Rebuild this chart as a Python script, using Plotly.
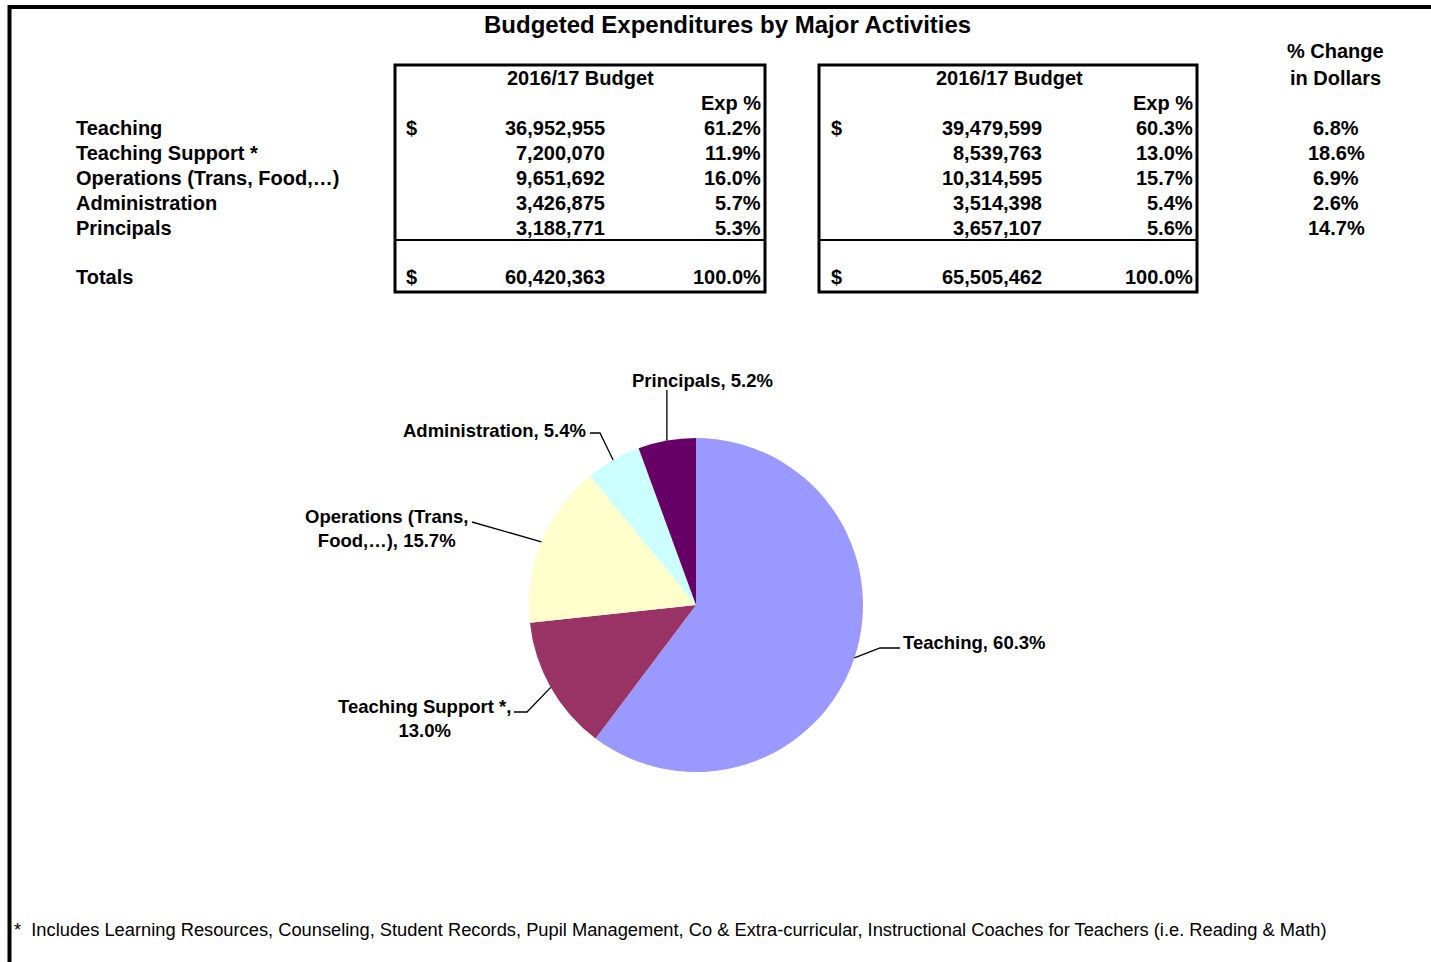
import math
import plotly.graph_objects as go

# ---------------- data ----------------
categories = ["Teaching", "Teaching Support *", "Operations (Trans, Food,\u2026)", "Administration", "Principals"]
budget_prev = [36952955, 7200070, 9651692, 3426875, 3188771]
pct_prev = [61.2, 11.9, 16.0, 5.7, 5.3]
budget_curr = [39479599, 8539763, 10314595, 3514398, 3657107]
pct_curr = [60.3, 13.0, 15.7, 5.4, 5.6]
pct_change = [6.8, 18.6, 6.9, 2.6, 14.7]
total_prev = 60420363
total_curr = 65505462
total_pct = 100.0
pie_label_pct = [60.3, 13.0, 15.7, 5.4, 5.2]
pie_colors = ["#9999FF", "#993366", "#FFFFCC", "#CCFFFF", "#660066"]
title_text = "Budgeted Expenditures by Major Activities"
header_text = "2016/17 Budget"
footnote = ("*&nbsp; Includes Learning Resources, Counseling, Student Records, Pupil Management, "
            "Co & Extra-curricular, Instructional Coaches for Teachers (i.e. Reading & Math)")

# ---------------- layout helpers ----------------
W, H = 1431, 962
FONT = "Liberation Sans, Arial, sans-serif"
TS = 20  # table font size
PAD = {"left": -2, "right": 2.5, "center": 0}  # compensate annotation padding


def X(px):
    return px / W


def Y(py):
    return 1 - py / H


annotations = []
shapes = []


def txt(s, px, py, xanchor="left", size=TS, bold=True, align="left"):
    annotations.append(dict(
        text=s, x=X(px + PAD[xanchor]), y=Y(py), xref="paper", yref="paper",
        xanchor=xanchor, yanchor="middle", showarrow=False, align=align,
        font=dict(family=FONT, size=size, color="black", weight="bold" if bold else "normal"),
    ))


def line(pts, width=2):
    path = "M " + " L ".join(f"{X(a)},{Y(b)}" for a, b in pts)
    shapes.append(dict(type="path", path=path, xref="paper", yref="paper",
                       line=dict(color="black", width=width)))


# outer frame
line([(9.5, 962), (9.5, 7), (1431, 7)], width=4)

# title
txt(title_text, 727, 25, xanchor="center", size=24)

# row labels
row_y = [128, 153, 178, 203, 228]
total_y = 277
for name, y in zip(categories, row_y):
    txt(name, 76, y)
txt("Totals", 76, total_y)

# tables
tables = [
    dict(x0=395, x1=765, hx=580, dollar=406, num=604, pct=760, vals=budget_prev, pcts=pct_prev, tot=total_prev),
    dict(x0=819, x1=1197, hx=1009, dollar=831, num=1041, pct=1192, vals=budget_curr, pcts=pct_curr, tot=total_curr),
]
for t in tables:
    shapes.append(dict(type="rect", xref="paper", yref="paper",
                       x0=X(t["x0"]), x1=X(t["x1"]), y0=Y(292), y1=Y(65),
                       line=dict(color="black", width=3)))
    line([(t["x0"], 240), (t["x1"], 240)], width=2)
    txt(header_text, t["hx"], 78, xanchor="center")
    txt("Exp %", t["pct"], 103, xanchor="right")
    txt("$", t["dollar"], row_y[0], xanchor="left")
    txt("$", t["dollar"], total_y, xanchor="left")
    for v, p, y in zip(t["vals"], t["pcts"], row_y):
        txt(f"{v:,}", t["num"], y, xanchor="right")
        txt(f"{p:.1f}%", t["pct"], y, xanchor="right")
    txt(f"{t['tot']:,}", t["num"], total_y, xanchor="right")
    txt(f"{total_pct:.1f}%", t["pct"], total_y, xanchor="right")

# % change column
txt("% Change", 1335, 51, xanchor="center")
txt("in Dollars", 1335, 78, xanchor="center")
for c, y in zip(pct_change, row_y):
    txt(f"{c:.1f}%", 1336, y, xanchor="center")

# footnote
txt(footnote, 14, 929, size=18.3, bold=False)

# ---------------- pie ----------------
cx, cy, r = 696, 605, 167
fig = go.Figure(go.Pie(
    labels=categories, values=budget_curr, sort=False, direction="clockwise", rotation=0,
    marker=dict(colors=pie_colors, line=dict(width=0)),
    textinfo="none", hoverinfo="label+percent", showlegend=False,
    domain=dict(x=[X(cx - r), X(cx + r)], y=[Y(cy + r), Y(cy - r)]),
))

# data labels with leader lines
label_text = [
    f"{categories[0]}, {pie_label_pct[0]:.1f}%",
    f"{categories[1]},<br>{pie_label_pct[1]:.1f}%",
    "Operations (Trans,<br>Food,\u2026), " + f"{pie_label_pct[2]:.1f}%",
    f"{categories[3]}, {pie_label_pct[3]:.1f}%",
    f"{categories[4]}, {pie_label_pct[4]:.1f}%",
]
label_layout = [
    dict(pos=(903, 642), anchor="left", way=[(880, 648), (900, 648)]),
    dict(pos=(510, 718), anchor="right", way=[(527, 712), (514, 712)]),
    dict(pos=(467, 528), anchor="right", way=[(472, 522)]),
    dict(pos=(585, 430), anchor="right", way=[(600, 433), (590, 433)]),
    dict(pos=(702, 380), anchor="center", way=[None]),
]
total = sum(budget_curr)
cum = 0
for i, v in enumerate(budget_curr):
    mid = (cum + v / 2) / total * 2 * math.pi
    cum += v
    ex, ey = cx + r * math.sin(mid), cy - r * math.cos(mid)
    lay = label_layout[i]
    pts = [(ex, ey)]
    for w in lay["way"]:
        pts.append(w if w is not None else (ex, 390))
    line(pts, width=1.3)
    txt(label_text[i], lay["pos"][0], lay["pos"][1], xanchor=lay["anchor"], size=18.5, align="center")

fig.update_layout(
    width=W, height=H, margin=dict(l=0, r=0, t=0, b=0),
    paper_bgcolor="white", plot_bgcolor="white",
    annotations=annotations, shapes=shapes,
)
fig.write_html("out.html", config={"displayModeBar": False},
               post_script="document.body.style.margin='0';")
